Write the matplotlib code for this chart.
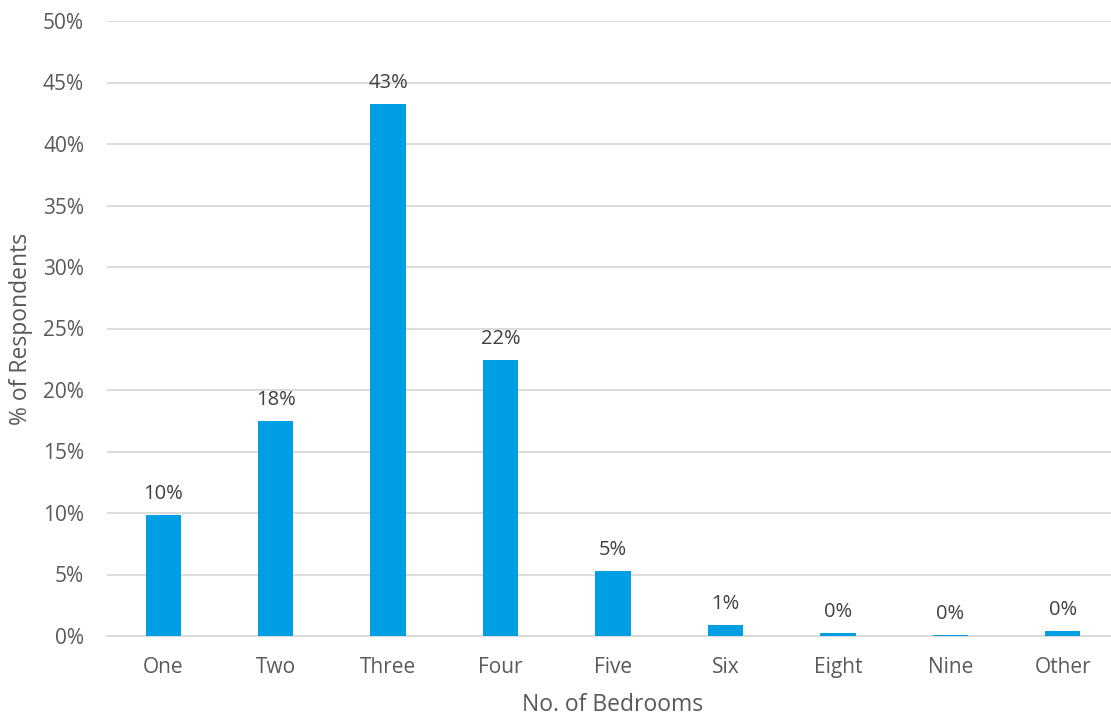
import matplotlib
matplotlib.use("Agg")
import matplotlib.pyplot as plt
from matplotlib.ticker import PercentFormatter

categories = ["One", "Two", "Three", "Four", "Five", "Six", "Eight", "Nine", "Other"]
shares = [9.85, 17.5, 43.25, 22.45, 5.3, 0.9, 0.25, 0.1, 0.4]
y_ticks = [0, 5, 10, 15, 20, 25, 30, 35, 40, 45, 50]

plt.rcParams["font.family"] = ["Open Sans", "DejaVu Sans"]
text_color = "#595959"
bar_color = "#009FE3"

fig = plt.figure(figsize=(11.11, 7.18), dpi=100)
ax = fig.add_axes([107 / 1111, 1 - 636 / 718, 1012 / 1111, 615 / 718])

x = range(len(categories))
bars = ax.bar(x, shares, width=0.315, color=bar_color, zorder=3)

for xi, v in zip(x, shares):
    ax.annotate(f"{round(v):.0f}%", (xi, v), xytext=(0, 8), textcoords="offset points",
                ha="center", va="bottom", fontsize=14.5, color="#404040")

ax.set_xlim(-0.5, len(categories) - 0.5)
ax.set_ylim(0, 50)
ax.set_yticks(y_ticks)
ax.yaxis.set_major_formatter(PercentFormatter(decimals=0))
ax.set_xticks(list(x))
ax.set_xticklabels(categories)
ax.grid(axis="y", color="#d9d9d9", linewidth=1.3, zorder=0)
ax.tick_params(axis="both", length=0, labelsize=15, labelcolor=text_color)
ax.tick_params(axis="y", pad=16.5)
ax.tick_params(axis="x", pad=15)
for side in ["top", "right", "left"]:
    ax.spines[side].set_visible(False)
ax.spines["bottom"].set_color("#d9d9d9")
ax.spines["bottom"].set_linewidth(1.3)

ax.set_xlabel("No. of Bedrooms", fontsize=16.5, color=text_color, labelpad=11)
ax.set_ylabel("% of Respondents", fontsize=16.5, color=text_color, labelpad=7)

fig.savefig("out.png", dpi=100)
